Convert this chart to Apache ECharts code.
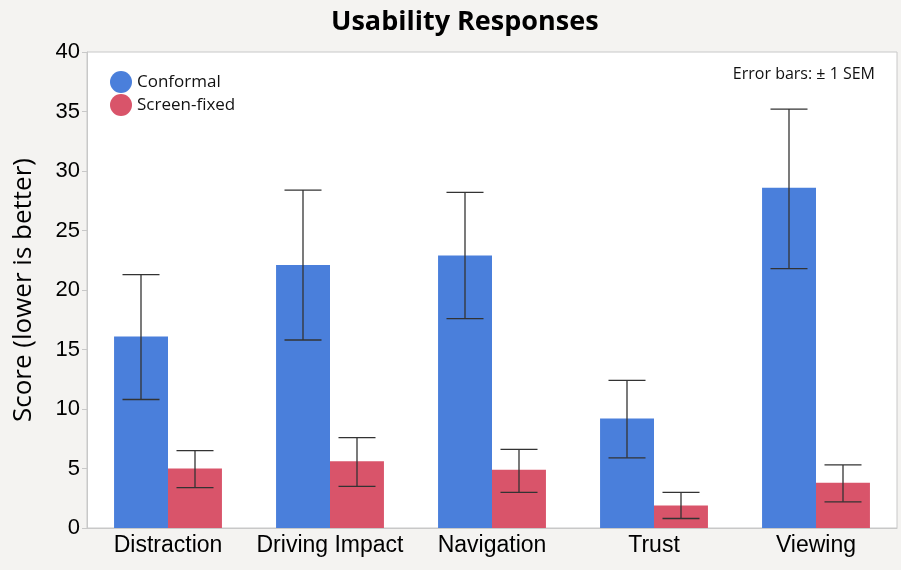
<!DOCTYPE html>
<html>
<head>
<meta charset="utf-8">
<script src="https://cdn.jsdelivr.net/npm/echarts@6/dist/echarts.min.js"></script>
<style>
  html, body { margin: 0; padding: 0; background: #f4f3f1; }
  #chart { width: 901px; height: 570px; }
</style>
</head>
<body>
<div id="chart"></div>
<script>
// data
var categories = ['Distraction', 'Driving Impact', 'Navigation', 'Trust', 'Viewing'];
var conformal = [16.1, 22.1, 22.9, 9.2, 28.6];
var conformalLow = [10.8, 15.8, 17.6, 5.9, 21.8];
var conformalHigh = [21.3, 28.4, 28.2, 12.4, 35.2];
var screenFixed = [5.0, 5.6, 4.9, 1.9, 3.8];
var screenLow = [3.4, 3.5, 3.0, 0.8, 2.2];
var screenHigh = [6.5, 7.6, 6.6, 3.0, 5.3];

var chart = echarts.init(document.getElementById('chart'));

// error bar drawer, side = -1 for left bar, +1 for right bar
function errorBars(side) {
    return function (params, api) {
	var x = api.value(0);
	var lo = api.coord([x, api.value(1)]);
	var hi = api.coord([x, api.value(2)]);
	var band = api.size([1, 0])[0];
	var off = side * band / 6;
	var cx = lo[0] + off;
	var hw = 18.5;
	var style = {stroke: '#333', lineWidth: 1.3};
	return {
	    type: 'group',
	    children: [
		{type: 'line', shape: {x1: cx, y1: lo[1], x2: cx, y2: hi[1]}, style: style},
		{type: 'line', shape: {x1: cx - hw, y1: lo[1], x2: cx + hw, y2: lo[1]}, style: style},
		{type: 'line', shape: {x1: cx - hw, y1: hi[1], x2: cx + hw, y2: hi[1]}, style: style}
	    ]
	};
    };
}

var option = {
    backgroundColor: '#f4f3f1',
    animation: false,
    title: {
	text: 'Usability Responses',
	left: 326,
	top: 4,
	textStyle: {fontFamily: 'Open Sans', fontWeight: 'bold', fontSize: 27, color: '#000'}
    },
    legend: {
	data: ['Conformal', 'Screen-fixed'],
	orient: 'vertical',
	left: 105,
	top: 66,
	icon: 'circle',
	itemWidth: 22,
	itemHeight: 22,
	itemGap: 1,
	textStyle: {fontFamily: 'Open Sans', fontSize: 17, color: '#111'}
    },
    graphic: [{
	type: 'text',
	right: 26,
	top: 66,
	style: {text: 'Error bars: \u00b1 1 SEM', font: '16px "Open Sans"', fill: '#111'}
    }],
    grid: {
	left: 87,
	right: 4,
	top: 52,
	bottom: 42,
	show: true,
	backgroundColor: '#fff',
	borderColor: '#c8c8c8',
	borderWidth: 1
    },
    xAxis: {
	type: 'category',
	data: categories,
	axisLine: {lineStyle: {color: '#c8c8c8'}},
	axisTick: {show: false},
	axisLabel: {interval: 0, fontFamily: 'Liberation Sans', fontSize: 23, color: '#000', margin: 6}
    },
    yAxis: {
	type: 'value',
	min: 0,
	max: 40,
	interval: 5,
	name: 'Score (lower is better)',
	nameLocation: 'middle',
	nameGap: 50,
	nameTextStyle: {fontFamily: 'Open Sans', fontSize: 26, color: '#000'},
	axisLine: {show: true, lineStyle: {color: '#c8c8c8'}},
	axisTick: {show: true, length: 5, lineStyle: {color: '#c8c8c8'}},
	splitLine: {show: false},
	axisLabel: {fontFamily: 'Liberation Sans', fontSize: 22, color: '#000', margin: 7}
    },
    series: [
	{
	    name: 'Conformal',
	    type: 'bar',
	    data: conformal,
	    barWidth: '33.3%',
	    barGap: '0%',
	    itemStyle: {color: '#4a7fdb'}
	},
	{
	    name: 'Screen-fixed',
	    type: 'bar',
	    data: screenFixed,
	    barWidth: '33.3%',
	    barGap: '0%',
	    itemStyle: {color: '#d9546a'}
	},
	{
	    type: 'custom',
	    renderItem: errorBars(-1),
	    data: categories.map((c, i) => [i, conformalLow[i], conformalHigh[i]]),
	    z: 10
	},
	{
	    type: 'custom',
	    renderItem: errorBars(1),
	    data: categories.map((c, i) => [i, screenLow[i], screenHigh[i]]),
	    z: 10
	}
    ]
};

chart.setOption(option);
</script>
</body>
</html>
